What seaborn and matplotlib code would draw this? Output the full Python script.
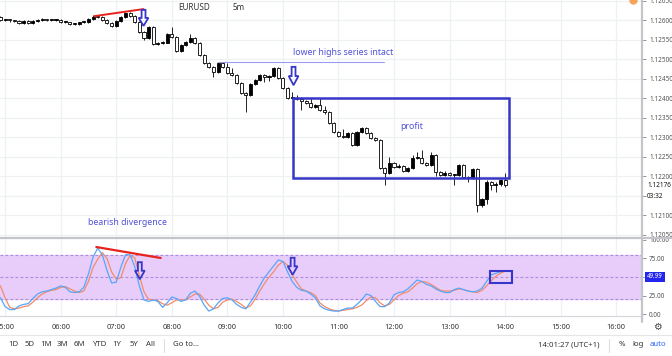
import numpy as np
import pandas as pd
import seaborn as sns
import matplotlib.pyplot as plt
from matplotlib.lines import Line2D
from matplotlib.patches import Polygon, Rectangle
import matplotlib.transforms as mtransforms

# EURUSD 5m candles, 04:55 -> 14:00
first_open = 1.12608
closes = [
    1.12600, 1.12600, 1.12599, 1.12597, 1.12592, 1.12597, 1.12592, 1.12597, 1.12600, 1.12601,
    1.12600, 1.12600, 1.12600, 1.12595, 1.12595, 1.12590, 1.12590, 1.12594, 1.12595, 1.12603,
    1.12609, 1.12608, 1.12600, 1.12592, 1.12585, 1.12597, 1.12608, 1.12618, 1.12610, 1.12595,
    1.12569, 1.12554, 1.12582, 1.12538, 1.12541, 1.12542, 1.12564, 1.12556, 1.12520, 1.12536,
    1.12544, 1.12554, 1.12541, 1.12510, 1.12490, 1.12480, 1.12467, 1.12490, 1.12480, 1.12464,
    1.12459, 1.12438, 1.12413, 1.12408, 1.12436, 1.12446, 1.12459, 1.12454, 1.12457, 1.12477,
    1.12451, 1.12426, 1.12400, 1.12400, 1.12398, 1.12392, 1.12387, 1.12377, 1.12382, 1.12369,
    1.12364, 1.12336, 1.12313, 1.12303, 1.12300, 1.12310, 1.12280, 1.12313, 1.12323, 1.12310,
    1.12298, 1.12292, 1.12221, 1.12208, 1.12233, 1.12223, 1.12226, 1.12213, 1.12221, 1.12246,
    1.12246, 1.12233, 1.12228, 1.12254, 1.12210, 1.12203, 1.12208, 1.12203, 1.12203, 1.12228,
    1.12198, 1.12195, 1.12218, 1.12126, 1.12141, 1.12185, 1.12177, 1.12180, 1.12190, 1.12176,
]
highs = [
    1.12610, 1.12603, 1.12602, 1.12601, 1.12599, 1.12599, 1.12600, 1.12600, 1.12603, 1.12604,
    1.12603, 1.12602, 1.12603, 1.12602, 1.12597, 1.12596, 1.12592, 1.12596, 1.12597, 1.12605,
    1.12612, 1.12611, 1.12610, 1.12602, 1.12594, 1.12599, 1.12610, 1.12621, 1.12620, 1.12612,
    1.12597, 1.12572, 1.12585, 1.12584, 1.12543, 1.12545, 1.12567, 1.12582, 1.12558, 1.12538,
    1.12546, 1.12564, 1.12556, 1.12543, 1.12512, 1.12492, 1.12482, 1.12492, 1.12492, 1.12490,
    1.12477, 1.12461, 1.12440, 1.12415, 1.12438, 1.12448, 1.12462, 1.12461, 1.12460, 1.12480,
    1.12480, 1.12453, 1.12428, 1.12415, 1.12408, 1.12402, 1.12395, 1.12400, 1.12384, 1.12400,
    1.12380, 1.12366, 1.12338, 1.12315, 1.12320, 1.12312, 1.12312, 1.12315, 1.12326, 1.12325,
    1.12312, 1.12300, 1.12294, 1.12223, 1.12250, 1.12236, 1.12230, 1.12228, 1.12224, 1.12255,
    1.12262, 1.12266, 1.12236, 1.12262, 1.12256, 1.12212, 1.12212, 1.12210, 1.12206, 1.12231,
    1.12230, 1.12200, 1.12221, 1.12220, 1.12144, 1.12190, 1.12188, 1.12185, 1.12193, 1.12208,
]
lows = [
    1.12598, 1.12597, 1.12596, 1.12595, 1.12590, 1.12590, 1.12590, 1.12590, 1.12595, 1.12598,
    1.12597, 1.12597, 1.12598, 1.12593, 1.12592, 1.12588, 1.12587, 1.12588, 1.12592, 1.12593,
    1.12601, 1.12605, 1.12598, 1.12590, 1.12582, 1.12583, 1.12595, 1.12606, 1.12607, 1.12593,
    1.12566, 1.12550, 1.12551, 1.12535, 1.12536, 1.12539, 1.12540, 1.12554, 1.12517, 1.12518,
    1.12534, 1.12542, 1.12539, 1.12507, 1.12487, 1.12477, 1.12454, 1.12464, 1.12477, 1.12461,
    1.12456, 1.12435, 1.12410, 1.12364, 1.12405, 1.12433, 1.12444, 1.12441, 1.12443, 1.12454,
    1.12448, 1.12423, 1.12397, 1.12397, 1.12395, 1.12369, 1.12384, 1.12374, 1.12375, 1.12366,
    1.12360, 1.12333, 1.12310, 1.12300, 1.12297, 1.12298, 1.12277, 1.12278, 1.12311, 1.12307,
    1.12295, 1.12289, 1.12218, 1.12177, 1.12206, 1.12220, 1.12221, 1.12210, 1.12211, 1.12219,
    1.12243, 1.12230, 1.12225, 1.12226, 1.12200, 1.12200, 1.12200, 1.12200, 1.12177, 1.12200,
    1.12195, 1.12185, 1.12193, 1.12108, 1.12120, 1.12128, 1.12165, 1.12160, 1.12175, 1.12172,
]

# stochastic %K (blue) and %D (orange)
stoch_k = [22, 10, 6, 6, 11, 13, 14, 21, 27, 30, 31, 33, 35, 38, 36, 30, 29, 30, 36, 54,
           77, 89, 80, 59, 42, 43, 63, 80, 80, 64, 38, 19, 17, 19, 17, 9, 15, 23, 21, 17,
           19, 28, 31, 24, 12, 4, 7, 15, 21, 22, 19, 13, 9, 7, 16, 26, 38, 49, 57, 65,
           73, 71, 57, 44, 36, 32, 31, 27, 22, 11, 7, 5, 4, 4, 6, 8, 8, 13, 19, 27,
           25, 17, 10, 10, 15, 26, 29, 30, 34, 40, 46, 44, 40, 38, 34, 31, 29, 29, 33, 35,
           33, 31, 30, 31, 35, 44, 53, 55, 57, 59]
stoch_d = [38, 22, 9, 7, 8, 10, 11, 16, 22, 27, 30, 32, 33, 36, 37, 34, 31, 29, 31, 44,
           63, 74, 83, 75, 57, 47, 49, 68, 79, 76, 52, 30, 20, 19, 18, 14, 12, 15, 19, 19,
           19, 23, 27, 27, 20, 12, 7, 9, 16, 19, 20, 17, 13, 8, 11, 20, 31, 41, 50, 57,
           66, 71, 66, 53, 43, 34, 31, 29, 25, 15, 10, 7, 5, 4, 5, 6, 7, 9, 12, 18,
           23, 22, 15, 11, 13, 19, 25, 28, 30, 35, 41, 44, 43, 40, 36, 32, 31, 31, 32, 34,
           33, 31, 30, 29, 32, 38, 45, 51, 55, 58]

hour_labels = ["05:00", "06:00", "07:00", "08:00", "09:00", "10:00",
               "11:00", "12:00", "13:00", "14:00", "15:00", "16:00"]
price_ticks = [1.1205, 1.1210, 1.1215, 1.1220, 1.1225, 1.1230, 1.1235,
               1.1240, 1.1245, 1.1250, 1.1255, 1.1260, 1.1265]
last_price = 1.12176
last_stoch = 49.99

sns.set_theme(style="white")
plt.rcParams['font.family'] = ['Noto Sans', 'DejaVu Sans']

W, H = 672, 356
fig = plt.figure(figsize=(W / 100, H / 100), dpi=100)
ax = fig.add_axes([0, 1 - 237 / H, 642 / W, 237 / H])
ax2 = fig.add_axes([0, 1 - 316 / H, 642 / W, 78 / H])

n = len(closes)
df = pd.DataFrame({"i": np.arange(n), "close": closes, "high": highs, "low": lows})
df["open"] = [first_open] + closes[:-1]
df["up"] = df["close"] >= df["open"]
df["bottom"] = df[["open", "close"]].min(axis=1)
df["body"] = (df["close"] - df["open"]).abs().clip(lower=0.00003)

XMIN, XMAX = -0.1, 138.56
hour_idx = [1 + 12 * k for k in range(len(hour_labels))]
grid_c = "#eef0f3"
axis_fs = 4.6

# --- price panel ---
for x in hour_idx:
    ax.axvline(x, color=grid_c, lw=0.9, zorder=0)
for p in price_ticks:
    ax.axhline(p, color=grid_c, lw=0.9, zorder=0)

ax.vlines(df["i"], df["low"], df["high"], color="black", lw=0.6, zorder=2)
ax.bar(df["i"], df["body"], bottom=df["bottom"], width=0.66,
       color=np.where(df["up"], "black", "white"), edgecolor="black",
       linewidth=0.6, zorder=3)

ax.set_xlim(XMIN, XMAX)
ax.set_ylim(1.12044, 1.126513)
ax.yaxis.tick_right()
ax.set_yticks(price_ticks)
# the 1.12150 label sits under the countdown label, so leave it blank
ax.set_yticklabels(["" if abs(p - 1.1215) < 1e-7 else f"{p:.5f}" for p in price_ticks])
ax.tick_params(axis="y", length=3, width=0.6, color="#888", labelsize=axis_fs,
               labelcolor="#555", pad=2, right=True)
ax.set_xticks([])
for s in ["top", "left", "bottom", "right"]:
    ax.spines[s].set_visible(False)

ann = "#3636c8"
txt = "#5050dc"


def down_arrow(a, xc, ytop, ybot, hw, sw):
    yh = ytop - 0.5 * (ytop - ybot)
    pts = [(xc - sw, ytop), (xc + sw, ytop), (xc + sw, yh), (xc + hw, yh),
           (xc, ybot), (xc - hw, yh), (xc - sw, yh)]
    a.add_patch(Polygon(pts, closed=True, fill=False, edgecolor=ann, lw=1.3, zorder=6))


ax.plot([20.3, 30.9], [1.12610, 1.12628], color="#e8231c", lw=1.4, zorder=5)
down_arrow(ax, 30.9, 1.12626, 1.12585, 1.05, 0.42)
down_arrow(ax, 63.3, 1.12480, 1.12433, 1.05, 0.42)
ax.plot([47.1, 82.9], [1.12492, 1.12492], color="#9a9af0", lw=0.8, zorder=4)
ax.add_patch(Rectangle((63.1, 1.12195), 46.8, 0.00205, fill=False,
                       edgecolor=ann, lw=1.8, zorder=6))
ax.text(38.4, 1.12631, "EURUSD", fontsize=5.8, color="#333", va="center")
ax.text(50.2, 1.12631, "5m", fontsize=5.8, color="#333", va="center")
ax.text(63.1, 1.12518, "lower highs series intact", fontsize=6.3, color=txt, va="center")
ax.text(86.4, 1.12326, "profit", fontsize=6.3, color=txt, va="center")
ax.text(19.0, 1.12080, "bearish divergence", fontsize=6.3, color=txt, va="center")
ax.plot([136.7], [1.12651], "o", ms=5, color="#f7a35c", zorder=7)

tr = mtransforms.blended_transform_factory(ax.transAxes, ax.transData)
ax.text(1.008, last_price, f"{last_price:.5f}", transform=tr, fontsize=axis_fs,
        color="#111", va="center", clip_on=False)
ax.text(1.008, last_price - 0.00029, "03:32", transform=tr, fontsize=axis_fs,
        color="#111", va="center", clip_on=False)

# --- stochastic panel ---
for x in hour_idx:
    ax2.axvline(x, color=grid_c, lw=0.9, zorder=0)
ax2.axhspan(20, 80, color="#e8cdfb", zorder=0.5)
for lv in [20, 50, 80]:
    ax2.axhline(lv, color="#a88bdc", lw=0.8, ls=(0, (2.5, 2)), zorder=1)

st = pd.DataFrame({"i": np.tile(np.arange(n), 2),
                   "value": stoch_k + stoch_d,
                   "line": ["K"] * n + ["D"] * n})
sns.lineplot(data=st, x="i", y="value", hue="line", hue_order=["D", "K"],
             palette={"K": "#58a6f8", "D": "#f28b6a"}, lw=0.9, legend=False,
             ax=ax2, zorder=3)

ax2.plot([20.7, 34.6], [90.5, 75.7], color="#e8231c", lw=1.6, zorder=5)
down_arrow(ax2, 30.1, 70, 47, 1.05, 0.42)
down_arrow(ax2, 63.1, 76, 53, 1.05, 0.42)
ax2.add_patch(Rectangle((105.8, 41.9), 4.6, 16.2, fill=False, edgecolor=ann,
                        lw=1.5, zorder=6))

ax2.set_xlim(XMIN, XMAX)
ax2.set_ylim(-2.7, 102.7)
ax2.yaxis.tick_right()
ax2.set_yticks([0, 25, 50, 75, 100])
ax2.set_yticklabels(["0.00", "25.00", "", "75.00", "100.00"])
ax2.tick_params(axis="y", length=3, width=0.6, color="#888", labelsize=axis_fs,
                labelcolor="#555", pad=2, right=True)
ax2.set_xticks(hour_idx)
ax2.set_xticklabels(hour_labels)
ax2.tick_params(axis="x", length=0, labelsize=5.3, labelcolor="#333", pad=6)
ax2.set_xlabel("")
ax2.set_ylabel("")
for s in ["top", "left", "right"]:
    ax2.spines[s].set_visible(False)
ax2.spines["bottom"].set_color("#d4d6dc")
ax2.spines["bottom"].set_linewidth(0.8)

tr2 = mtransforms.blended_transform_factory(ax2.transAxes, ax2.transData)
ax2.text(1.008, 50, f"{last_stoch:.2f}", transform=tr2, fontsize=axis_fs, color="white",
         va="center", style="italic", clip_on=False,
         bbox=dict(boxstyle="square,pad=0.3", fc="#2525f0", ec="none"))

# frame lines, toolbar
def fig_line(x0, y0, x1, y1, c, lw):
    fig.add_artist(Line2D([x0 / W, x1 / W], [1 - y0 / H, 1 - y1 / H], color=c, lw=lw))


fig_line(0, 237.5, W, 237.5, "#c3c5cb", 1.6)
fig_line(642, 0, 642, 322, "#c3c5cb", 1.6)
fig_line(0, 335, W, 335, "#e4e6ea", 0.8)
fig_line(164, 339, 164, 352, "#dcdee3", 0.8)
fig_line(609, 339, 609, 352, "#dcdee3", 0.8)

fig.text(657 / W, 1 - 327 / H, "\u2699", fontsize=7, color="#444",
         ha="center", va="center", family="DejaVu Sans")
for lab, x in [("1D", 13), ("5D", 30), ("1M", 46), ("3M", 62), ("6M", 79),
               ("YTD", 100), ("1Y", 117), ("5Y", 134), ("All", 150)]:
    fig.text(x / W, 1 - 345 / H, lab, fontsize=5.6, color="#333", ha="center", va="center")
fig.text(173 / W, 1 - 345 / H, "Go to\u2026", fontsize=5.6, color="#333", va="center")
fig.text(600 / W, 1 - 345 / H, "14:01:27 (UTC+1)", fontsize=5.6, color="#333",
         ha="right", va="center")
fig.text(622 / W, 1 - 345 / H, "%", fontsize=5.6, color="#333", ha="center", va="center")
fig.text(638 / W, 1 - 345 / H, "log", fontsize=5.6, color="#333", ha="center", va="center")
fig.text(658 / W, 1 - 345 / H, "auto", fontsize=5.6, color="#2962ff", ha="center", va="center")

fig.savefig("out.png", dpi=100)
